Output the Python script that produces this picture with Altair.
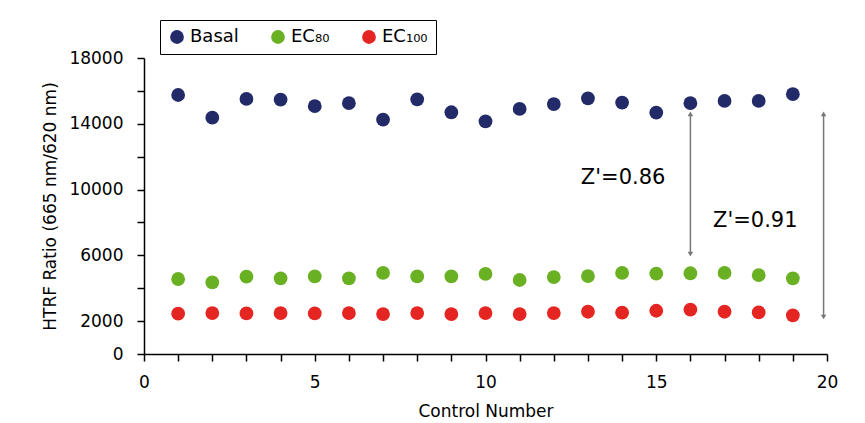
import altair as alt
import pandas as pd

controls = list(range(1, 20))
basal = [15750, 14370, 15510, 15470, 15070, 15250, 14250, 15490, 14700, 14150,
         14900, 15200, 15550, 15290, 14680, 15250, 15390, 15390, 15800]
ec80 = [4560, 4360, 4700, 4600, 4720, 4600, 4930, 4720, 4720, 4870,
        4500, 4680, 4730, 4930, 4890, 4910, 4930, 4790, 4600]
ec100 = [2450, 2490, 2470, 2490, 2470, 2490, 2430, 2490, 2430, 2490,
         2430, 2490, 2570, 2510, 2630, 2700, 2570, 2530, 2350]

series_names = ["Basal", "EC\u2088\u2080", "EC\u2081\u2080\u2080"]
series_colors = ["#222A68", "#6AB023", "#E52522"]

arrow_x = [16, 19.9]
arrow_top = [14600, 14600]
arrow_bottom = [6080, 2250]
label_x = [14.03, 17.9]
label_y = [10700, 8090]
label_text = ["Z'=0.86", "Z'=0.91"]

FONT = "DejaVu Sans"

rows = []
for name, vals in zip(series_names, [basal, ec80, ec100]):
    for c, v in zip(controls, vals):
        rows.append({"Control": c, "Value": v, "Series": name})
df = pd.DataFrame(rows)

arrows = pd.DataFrame({"x": arrow_x, "top": arrow_top, "bottom": arrow_bottom})
labels = pd.DataFrame({"x": label_x, "y": label_y, "t": label_text})

xscale = alt.Scale(domain=[0, 20], nice=False)
yscale = alt.Scale(domain=[0, 18000], nice=False)
xaxis = alt.Axis(values=list(range(0, 21)), labelOverlap=False, labelFlush=False,
                 labelExpr="datum.value % 5 == 0 ? format(datum.value, 'd') : ''")
yaxis = alt.Axis(values=list(range(0, 18001, 2000)), labelOverlap=False, labelFlush=False,
                 labelExpr="(datum.value % 4000 == 2000 || datum.value == 0) ? format(datum.value, 'd') : ''")
XT = "Control Number"
YT = "HTRF Ratio (665 nm/620 nm)"

points = alt.Chart(df).mark_circle(size=190, opacity=1).encode(
    x=alt.X("Control:Q", scale=xscale, title=XT, axis=xaxis),
    y=alt.Y("Value:Q", scale=yscale, title=YT, axis=yaxis),
    color=alt.Color("Series:N",
                    scale=alt.Scale(domain=series_names, range=series_colors),
                    sort=series_names,
                    legend=alt.Legend(title=None, orient="none", direction="horizontal",
                                      legendX=16, legendY=-38,
                                      strokeColor="black", padding=8,
                                      symbolSize=190, symbolType="circle",
                                      labelFontSize=18, labelFont=FONT, labelColor="black",
                                      columnPadding=30, symbolStrokeWidth=0)),
)

rules = alt.Chart(arrows).mark_rule(color="#777777", strokeWidth=1.5).encode(
    x=alt.X("x:Q", scale=xscale, title=XT, axis=xaxis),
    y=alt.Y("top:Q", scale=yscale, title=YT, axis=yaxis),
    y2="bottom:Q",
)
heads_up = alt.Chart(arrows).mark_point(shape="triangle-up", filled=True, size=30,
                                        color="#777777", opacity=1).encode(
    x=alt.X("x:Q", scale=xscale, title=XT, axis=xaxis),
    y=alt.Y("top:Q", scale=yscale, title=YT, axis=yaxis))
heads_down = alt.Chart(arrows).mark_point(shape="triangle-down", filled=True, size=30,
                                          color="#777777", opacity=1).encode(
    x=alt.X("x:Q", scale=xscale, title=XT, axis=xaxis),
    y=alt.Y("bottom:Q", scale=yscale, title=YT, axis=yaxis))

texts = alt.Chart(labels).mark_text(fontSize=21, font=FONT, color="black").encode(
    x=alt.X("x:Q", scale=xscale, title=XT, axis=xaxis),
    y=alt.Y("y:Q", scale=yscale, title=YT, axis=yaxis),
    text="t:N")

chart = alt.layer(points, rules, heads_up, heads_down, texts).properties(
    width=683, height=296,
    autosize=alt.AutoSizeParams(type="none"),
    padding={"left": 136, "top": 50, "right": 20, "bottom": 66},
).configure_view(stroke=None).configure_axis(
    grid=False, domainColor="black", tickColor="black", domainWidth=1.5, tickWidth=1.5,
    tickSize=7, labelFont=FONT, titleFont=FONT, labelFontSize=17, titleFontSize=17,
    labelColor="black", titleColor="black", titleFontWeight="normal", labelOverlap=False,
).configure_axisX(labelPadding=13, titlePadding=13).configure_axisY(labelPadding=14, titlePadding=9)

chart.save("out.html", embed_options={"renderer": "svg", "actions": False})
